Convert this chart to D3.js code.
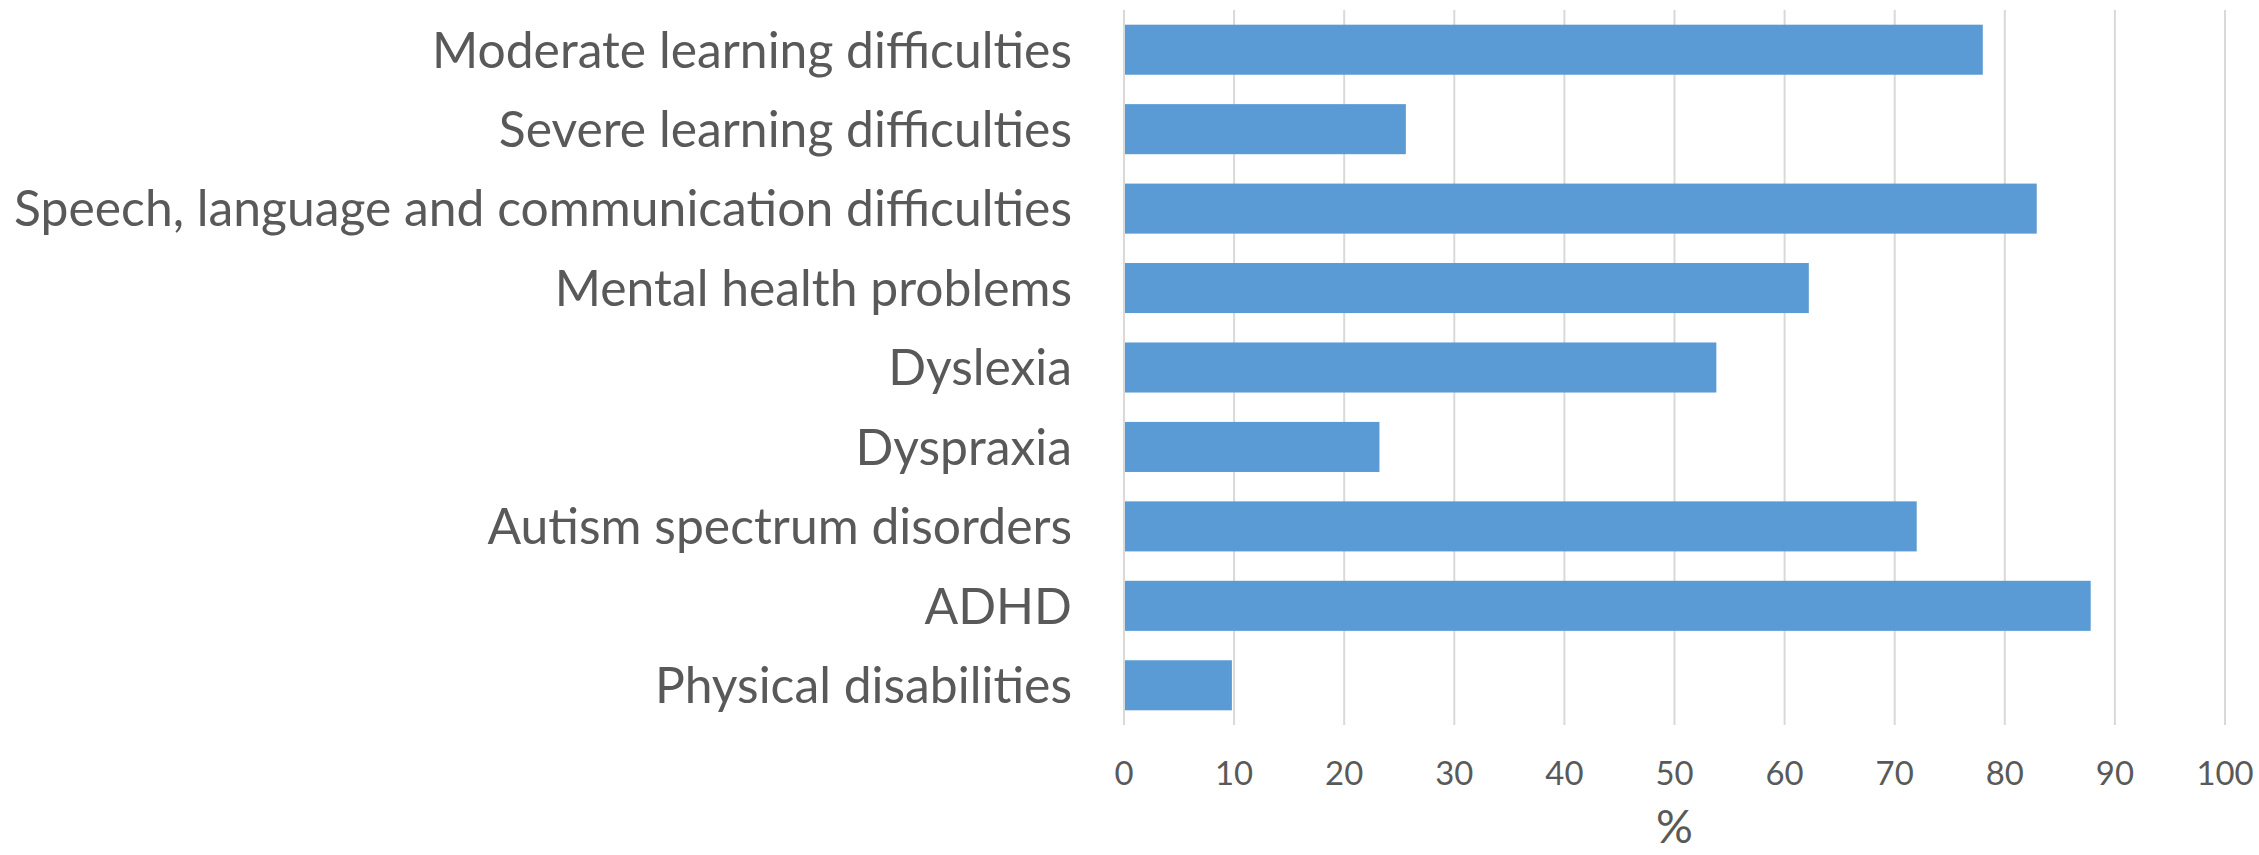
<!DOCTYPE html>
<html>
<head>
<meta charset="utf-8">
<script src="https://cdn.jsdelivr.net/npm/d3@7"></script>
<style>
  body { margin: 0; background: #fff; }
  svg { display: block; }
  text { font-family: Lato, "Open Sans", sans-serif; fill: #595959; }
</style>
</head>
<body>
<div id="chart"></div>
<script>
var categories = [
  'Moderate learning difficulties',
  'Severe learning difficulties',
  'Speech, language and communication difficulties',
  'Mental health problems',
  'Dyslexia',
  'Dyspraxia',
  'Autism spectrum disorders',
  'ADHD',
  'Physical disabilities'
];
var values = [78.0, 25.6, 82.9, 62.2, 53.8, 23.2, 72.0, 87.8, 9.8];
var xTicks = [0, 10, 20, 30, 40, 50, 60, 70, 80, 90, 100];
var xTitle = '%';

var width = 2259, height = 855;
var margin = {left: 1124, right: 34, top: 10, bottom: 130};
var innerW = width - margin.left - margin.right;
var innerH = height - margin.top - margin.bottom;

var svg = d3.select('#chart')
  .append('svg')
  .attr('width', width)
  .attr('height', height);

var g = svg.append('g')
  .attr('transform', 'translate(' + margin.left + ',' + margin.top + ')');

var x = d3.scaleLinear().domain([0, 100]).range([0, innerW]);
var y = d3.scaleBand().domain(categories).range([0, innerH])
  .paddingInner(0.37).paddingOuter(0.185);

// gridlines
g.selectAll('line.grid')
  .data(xTicks)
  .enter()
  .append('line')
  .attr('class', 'grid')
  .attr('x1', function(d) { return x(d); })
  .attr('x2', function(d) { return x(d); })
  .attr('y1', 0)
  .attr('y2', innerH)
  .attr('stroke', '#d9d9d9')
  .attr('stroke-width', 2);

// bars
g.selectAll('rect.bar')
  .data(values)
  .enter()
  .append('rect')
  .attr('class', 'bar')
  .attr('x', x(0) + 1)
  .attr('y', function(d, i) { return y(categories[i]); })
  .attr('width', function(d) { return x(d) - x(0) - 1; })
  .attr('height', y.bandwidth())
  .attr('fill', '#5b9bd5');

// category labels (condensed to mimic the narrow original face)
var labels = g.selectAll('g.cat')
  .data(categories)
  .enter()
  .append('g')
  .attr('class', 'cat')
  .attr('transform', function(d) {
    return 'translate(-52,' + (y(d) + y.bandwidth() / 2 + 17.8) + ')';
  });

var labelText = labels.append('text')
  .attr('text-anchor', 'end')
  .style('font-size', '50px')
  .text(function(d) { return d; });

var longest = 0;
labelText.each(function() { longest = Math.max(longest, this.getComputedTextLength()); });
var sx = longest > 0 ? 1058 / longest : 1;
labelText.attr('transform', 'scale(' + sx + ',1)');

// tick labels
g.selectAll('text.tick')
  .data(xTicks)
  .enter()
  .append('text')
  .attr('class', 'tick')
  .attr('text-anchor', 'middle')
  .attr('transform', function(d) { return 'translate(' + x(d) + ',' + (innerH + 60) + ') scale(' + sx + ',1)'; })
  .style('font-size', '33px')
  .text(function(d) { return d; });

// axis title
g.append('text')
  .attr('text-anchor', 'middle')
  .attr('x', innerW / 2)
  .attr('y', innerH + 118)
  .style('font-size', '46px')
  .text(xTitle);
</script>
</body>
</html>
